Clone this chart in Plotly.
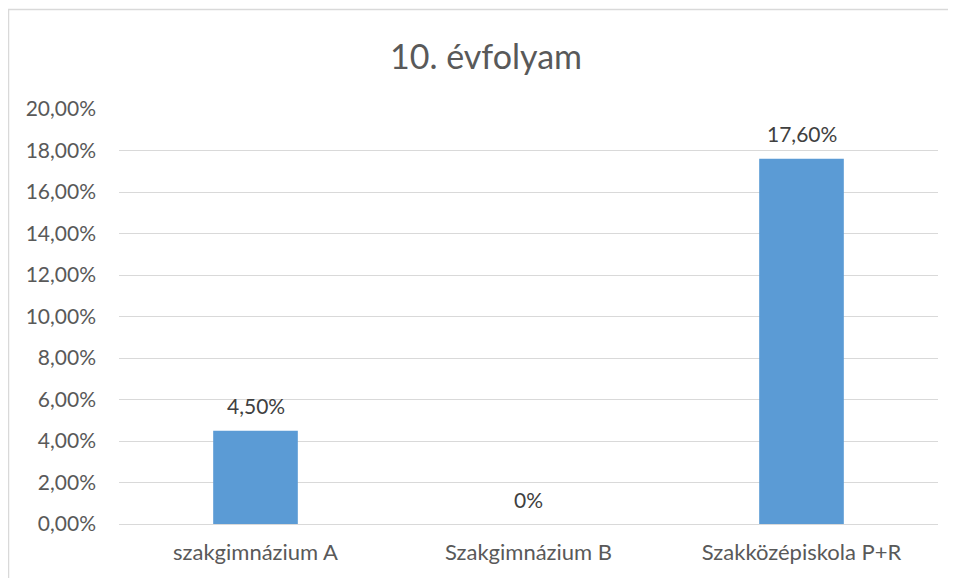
import plotly.graph_objects as go

categories = ["szakgimnázium A", "Szakgimnázium B", "Szakközépiskola P+R"]
values = [0.045, 0.0, 0.176]
y_ticks = [0.0, 0.02, 0.04, 0.06, 0.08, 0.10, 0.12, 0.14, 0.16, 0.18, 0.20]
title_text = "10. évfolyam"


def fmt_label(v):
    if v == 0:
        return "0%"
    return f"{v * 100:.2f}".replace(".", ",") + "%"


def fmt_tick(v):
    return f"{v * 100:.2f}".replace(".", ",") + "%"


FONT = "Lato, 'Open Sans', sans-serif"
TXT = "#595959"

# page body has an 8px margin; figure coordinates are window coordinates - 8
W, H = 948, 570
PL, PR, PT, PB = 111, 930, 101, 516

fig = go.Figure()
fig.add_trace(go.Bar(
    x=categories, y=values,
    marker=dict(color="#5b9bd5", line=dict(width=0)),
    hoverinfo="skip",
))

for c, v in zip(categories, values):
    fig.add_annotation(
        x=c, y=v, xref="x", yref="y",
        text=fmt_label(v), showarrow=False,
        yshift=25, font=dict(family=FONT, size=21, color="#404040"),
    )

fig.update_layout(
    width=W, height=H,
    margin=dict(l=PL, r=W - PR, t=PT, b=H - PB, pad=0),
    paper_bgcolor="white", plot_bgcolor="white",
    bargap=0.69,
    showlegend=False,
    title=dict(
        text=title_text, x=478 / W, xref="container", xanchor="center",
        y=1 - 49 / H, yref="container", yanchor="middle",
        font=dict(family=FONT, size=34, color=TXT),
    ),
    font=dict(family=FONT, size=21, color=TXT),
    xaxis=dict(
        showgrid=False, showline=True, linecolor="#d9d9d9", linewidth=1,
        ticks="", tickfont=dict(family=FONT, size=22, color=TXT),
        ticklabelstandoff=9, fixedrange=True,
    ),
    yaxis=dict(
        range=[0, 0.20], tickvals=y_ticks, ticktext=[fmt_tick(t) for t in y_ticks],
        showgrid=True, gridcolor="#d9d9d9", gridwidth=1,
        zeroline=True, zerolinecolor="#d9d9d9", zerolinewidth=1,
        showline=False, ticks="", tickfont=dict(family=FONT, size=21, color=TXT),
        ticklabelstandoff=22, fixedrange=True,
    ),
    shapes=[dict(
        type="rect", xref="paper", yref="paper",
        x0=(0.5 - PL) / (PR - PL), x1=(1000 - PL) / (PR - PL),
        y0=(PB - 640) / (PB - PT), y1=(PB - 1.5) / (PB - PT),
        line=dict(color="#d9d9d9", width=1.5), fillcolor="rgba(0,0,0,0)",
        layer="below",
    )],
)

fig.write_html("out.html")
